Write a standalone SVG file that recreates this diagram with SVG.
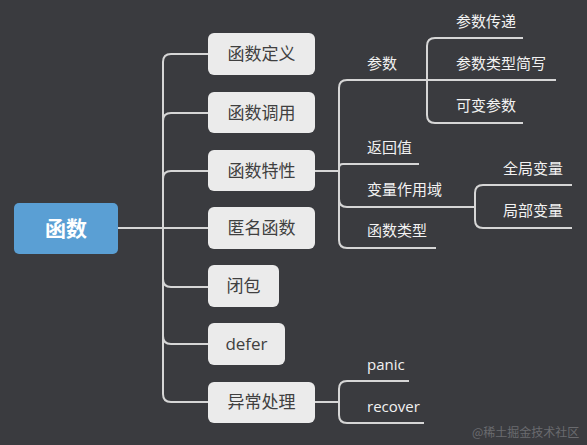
<svg xmlns="http://www.w3.org/2000/svg" width="587" height="445" viewBox="0 0 587 445">
<style>
.bg{fill:#3a3b3f}
.ln{fill:none;stroke:#d6d6d6;stroke-width:2}
.nd{fill:#ebebeb}
.nt{font-family:"Open Sans","Noto Sans CJK SC",sans-serif;font-size:17px;fill:#404040;text-anchor:middle}
.st{font-family:"Open Sans","Noto Sans CJK SC",sans-serif;font-size:15px;fill:#f2f2f2}
.rt{font-family:"Open Sans","Noto Sans CJK SC",sans-serif;font-size:21px;font-weight:bold;fill:#ffffff;text-anchor:middle}
.wm{font-family:"Noto Sans CJK SC",sans-serif;font-size:12px;fill:#6a6b6f}
</style>
<rect class="bg" x="0" y="0" width="587" height="445"/>
<g id="connectors">
<path class="ln" d="M118,228 H208"/>
<path class="ln" d="M163,228 V62 Q163,54 171,54 H208"/>
<path class="ln" d="M163,228 V121 Q163,113 171,113 H208"/>
<path class="ln" d="M163,228 V179 Q163,171 171,171 H208"/>
<path class="ln" d="M163,228 V279 Q163,287 171,287 H208"/>
<path class="ln" d="M163,228 V336 Q163,344 171,344 H208"/>
<path class="ln" d="M163,228 V394 Q163,402 171,402 H208"/>
<path class="ln" d="M315,171 H339"/>
<path class="ln" d="M339,171 V88 Q339,80 347,80 H427"/>
<path class="ln" d="M339,171 V168 Q339,164 343,164 H419"/>
<path class="ln" d="M339,171 V199 Q339,207 347,207 H475"/>
<path class="ln" d="M339,171 V240 Q339,248 347,248 H436"/>
<path class="ln" d="M427,80 V46 Q427,38 435,38 H523"/>
<path class="ln" d="M427,80 H556"/>
<path class="ln" d="M427,80 V115 Q427,123 435,123 H523"/>
<path class="ln" d="M475,207 V193 Q475,185 483,185 H572"/>
<path class="ln" d="M475,207 V220 Q475,228 483,228 H572"/>
<path class="ln" d="M315,402 H339"/>
<path class="ln" d="M339,402 V389 Q339,381 347,381 H409"/>
<path class="ln" d="M339,402 V415 Q339,423 347,423 H424"/>
</g>
<g id="root"><rect x="14" y="203" width="104" height="51" rx="5" fill="#5a9fd4"/><text class="rt" x="66" y="235.5">函数</text></g>
<g id="n-def"><rect class="nd" x="208" y="33" width="107" height="42" rx="6"/><text class="nt" x="261.5" y="60">函数定义</text></g>
<g id="n-call"><rect class="nd" x="208" y="92" width="107" height="41" rx="6"/><text class="nt" x="261.5" y="118.5">函数调用</text></g>
<g id="n-feat"><rect class="nd" x="208" y="150" width="107" height="41" rx="6"/><text class="nt" x="261.5" y="176.5">函数特性</text></g>
<g id="n-anon"><rect class="nd" x="208" y="207" width="107" height="42" rx="6"/><text class="nt" x="261.5" y="234">匿名函数</text></g>
<g id="n-closure"><rect class="nd" x="208" y="265" width="71" height="42" rx="6"/><text class="nt" x="243.5" y="292">闭包</text></g>
<g id="n-defer"><rect class="nd" x="208" y="323" width="77" height="42" rx="6"/><text class="nt" x="246.5" y="350">defer</text></g>
<g id="n-except"><rect class="nd" x="208" y="382" width="107" height="41" rx="6"/><text class="nt" x="261.5" y="408">异常处理</text></g>
<g id="s-param"><text class="st" x="367" y="69">参数</text></g>
<g id="s-ret"><text class="st" x="367" y="153">返回值</text></g>
<g id="s-scope"><text class="st" x="367" y="195">变量作用域</text></g>
<g id="s-ftype"><text class="st" x="367" y="236">函数类型</text></g>
<g id="s-pass"><text class="st" x="456" y="27">参数传递</text></g>
<g id="s-short"><text class="st" x="456" y="69">参数类型简写</text></g>
<g id="s-var"><text class="st" x="456" y="111">可变参数</text></g>
<g id="s-global"><text class="st" x="503" y="174">全局变量</text></g>
<g id="s-local"><text class="st" x="503" y="216">局部变量</text></g>
<g id="s-panic"><text class="st" x="367" y="370">panic</text></g>
<g id="s-recover"><text class="st" x="367" y="412">recover</text></g>
<text class="wm" x="472" y="437">@稀土掘金技术社区</text>
</svg>
